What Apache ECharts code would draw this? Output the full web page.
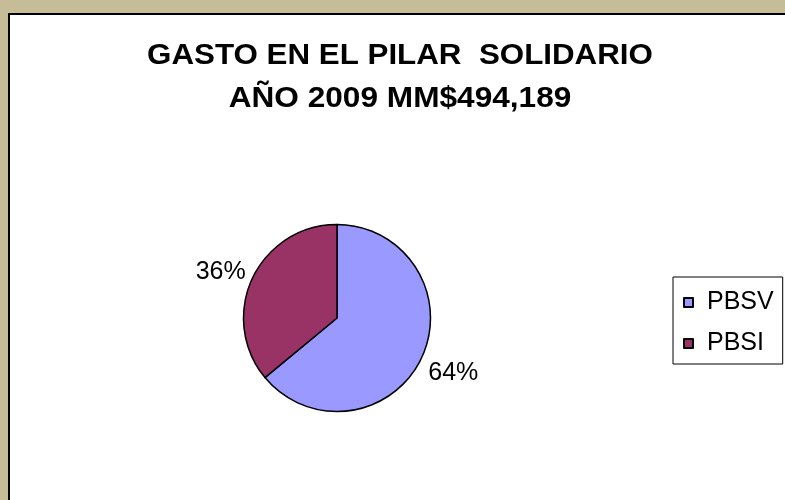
<!DOCTYPE html>
<html>
<head>
<meta charset="utf-8">
<script src="https://cdn.jsdelivr.net/npm/echarts@6/dist/echarts.min.js"></script>
<style>
html,body{margin:0;padding:0;overflow:hidden;}
#chart{width:785px;height:500px;}
</style>
</head>
<body>
<div id="chart"></div>
<script>
const categories = ['PBSV', 'PBSI'];
const values = [64, 36];
const colors = ['#9999FF', '#993366'];
const titleLines = ['GASTO EN EL PILAR  SOLIDARIO', 'AÑO 2009 MM$494,189'];

const chart = echarts.init(document.getElementById('chart'), null, {renderer: 'canvas'});
const font = '"Liberation Sans", Arial, sans-serif';
const titleFont = 'bold 29px "Liberation Sans", Arial, sans-serif';

chart.setOption({
  backgroundColor: '#C6BD98',
  animation: false,
  graphic: [{
    type: 'rect',
    z: -10,
    silent: true,
    shape: {x: 9, y: 14, width: 800, height: 500},
    style: {fill: '#FFFFFF', stroke: '#000000', lineWidth: 2}
  }, {
    type: 'text',
    x: 400, y: 56, scaleX: 1.08,
    z: 10, silent: true,
    style: {text: titleLines[0], font: titleFont, fill: '#000000', textAlign: 'center', textVerticalAlign: 'middle'}
  }, {
    type: 'text',
    x: 400, y: 99, scaleX: 1.09,
    z: 10, silent: true,
    style: {text: titleLines[1], font: titleFont, fill: '#000000', textAlign: 'center', textVerticalAlign: 'middle'}
  }],
  legend: {
    orient: 'vertical',
    left: 673,
    top: 277,
    padding: [13, 9, 8, 10],
    itemGap: 16,
    itemWidth: 9,
    itemHeight: 9,
    icon: 'rect',
    borderColor: '#000000',
    borderWidth: 1,
    backgroundColor: '#FFFFFF',
    data: categories,
    textStyle: {
      fontFamily: font,
      fontSize: 25,
      lineHeight: 24,
      color: '#000000',
      padding: [0, 0, 0, 9]
    }
  },
  series: [{
    type: 'pie',
    center: [337, 318],
    radius: 93.5,
    startAngle: 90,
    clockwise: true,
    avoidLabelOverlap: false,
    itemStyle: {borderColor: '#000000', borderWidth: 1.5},
    label: {
      show: true,
      position: 'outside',
      formatter: '{d}%',
      fontFamily: font,
      fontSize: 25,
      color: '#000000',
      distanceToLabelLine: -25
    },
    labelLine: {show: false, length: 35, length2: 0},
    labelLayout: function (params) {
      return params.dataIndex === 1 ? {dy: 9} : {};
    },
    data: categories.map((c, i) => ({
      name: c,
      value: values[i],
      itemStyle: {color: colors[i]}
    }))
  }]
});
</script>
</body>
</html>
